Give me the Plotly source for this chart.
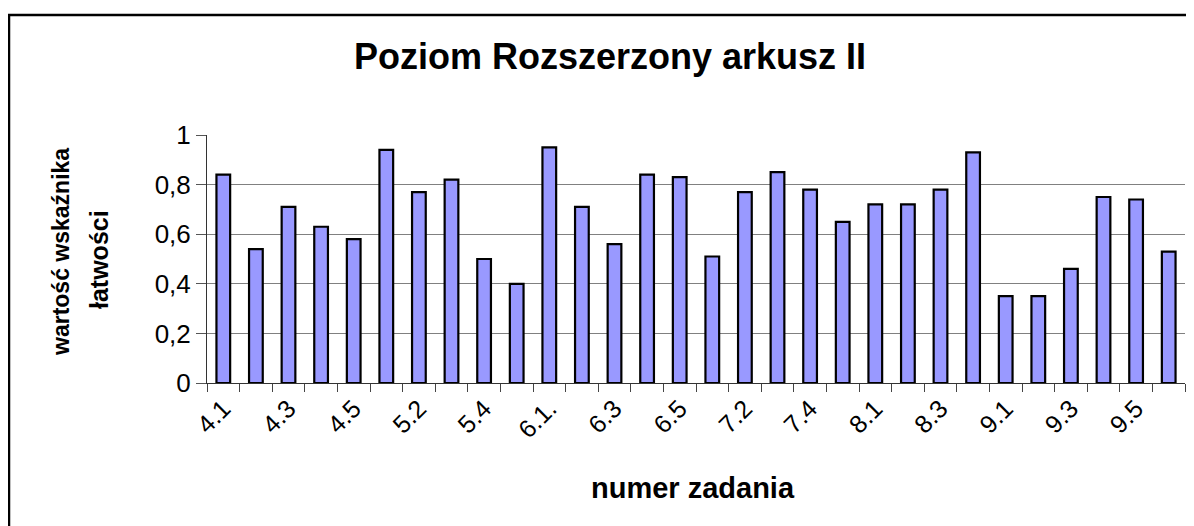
import plotly.graph_objects as go

categories = ["4.1", "4.2", "4.3", "4.4", "4.5", "5.1", "5.2", "5.3", "5.4", "5.5",
              "6.1.", "6.2", "6.3", "6.4", "6.5", "7.1", "7.2", "7.3", "7.4", "7.5",
              "8.1", "8.2", "8.3", "8.4", "9.1", "9.2", "9.3", "9.4", "9.5", "9.6"]
values = [0.84, 0.54, 0.71, 0.63, 0.58, 0.94, 0.77, 0.82, 0.50, 0.40,
          0.95, 0.71, 0.56, 0.84, 0.83, 0.51, 0.77, 0.85, 0.78, 0.65,
          0.72, 0.72, 0.78, 0.93, 0.35, 0.35, 0.46, 0.75, 0.74, 0.53]

title_text = "Poziom Rozszerzony arkusz II"
x_title = "numer zadania"
y_title_lines = ["wartość wskaźnika", "łatwości"]

# page body adds an 8px offset; positions below are screen pixels minus 8
OFF = 8
W, H = 1194, 526
L, R, T, B = 207 - OFF, 17, 135 - OFF, H - (383 - OFF)
pw, ph = W - L - R, H - T - B

def px_x(p):
    return (p - OFF - L) / pw

def px_y(p):
    return (H - B - (p - OFF)) / ph

FONT = "Arial, Liberation Sans, sans-serif"

fig = go.Figure(go.Bar(
    x=categories, y=values,
    marker=dict(color="#9999FF", line=dict(color="black", width=2.2)),
    width=0.42,
))

fig.update_layout(
    width=W, height=H,
    margin=dict(l=L, r=R, t=T, b=B, autoexpand=False),
    paper_bgcolor="white", plot_bgcolor="white",
    separators=", ",
    showlegend=False,
    font=dict(family=FONT, color="black"),
    title=dict(text="<b>" + title_text + "</b>", x=(610 - OFF) / W, xanchor="center",
               y=1 - (56 - OFF) / H, yanchor="middle", font=dict(size=36, family=FONT)),
    xaxis=dict(type="category", tickson="boundaries", ticklabelstep=2,
               ticks="outside", ticklen=8, tickcolor="#444", tickwidth=1,
               showline=True, linecolor="#333", linewidth=1,
               showgrid=False, tickangle=-45,
               tickfont=dict(size=25, family=FONT)),
    yaxis=dict(range=[0, 1], dtick=0.2, tick0=0,
               ticks="outside", ticklen=10, tickcolor="#555", tickwidth=1,
               showline=True, linecolor="#333", linewidth=1,
               showgrid=True, gridcolor="#808080", gridwidth=1,
               zeroline=False, tickfont=dict(size=26, family=FONT)),
)

fig.add_annotation(text="<b>" + x_title + "</b>", xref="paper", yref="paper",
                   x=px_x(693), y=px_y(488), xanchor="center", yanchor="middle",
                   showarrow=False, font=dict(size=29, family=FONT))
fig.add_annotation(text="<b>" + y_title_lines[0] + "</b>", xref="paper", yref="paper",
                   x=px_x(61), y=px_y(252), xanchor="center", yanchor="middle",
                   textangle=-90, showarrow=False, font=dict(size=23, family=FONT))
fig.add_annotation(text="<b>" + y_title_lines[1] + "</b>", xref="paper", yref="paper",
                   x=px_x(99), y=px_y(260), xanchor="center", yanchor="middle",
                   textangle=-90, showarrow=False, font=dict(size=25, family=FONT))

fig.add_shape(type="rect", xref="paper", yref="paper",
              x0=px_x(9), x1=px_x(1260), y0=px_y(15), y1=px_y(600),
              line=dict(color="black", width=2.5), fillcolor="rgba(0,0,0,0)", layer="below")

fig.write_html("out.html")
